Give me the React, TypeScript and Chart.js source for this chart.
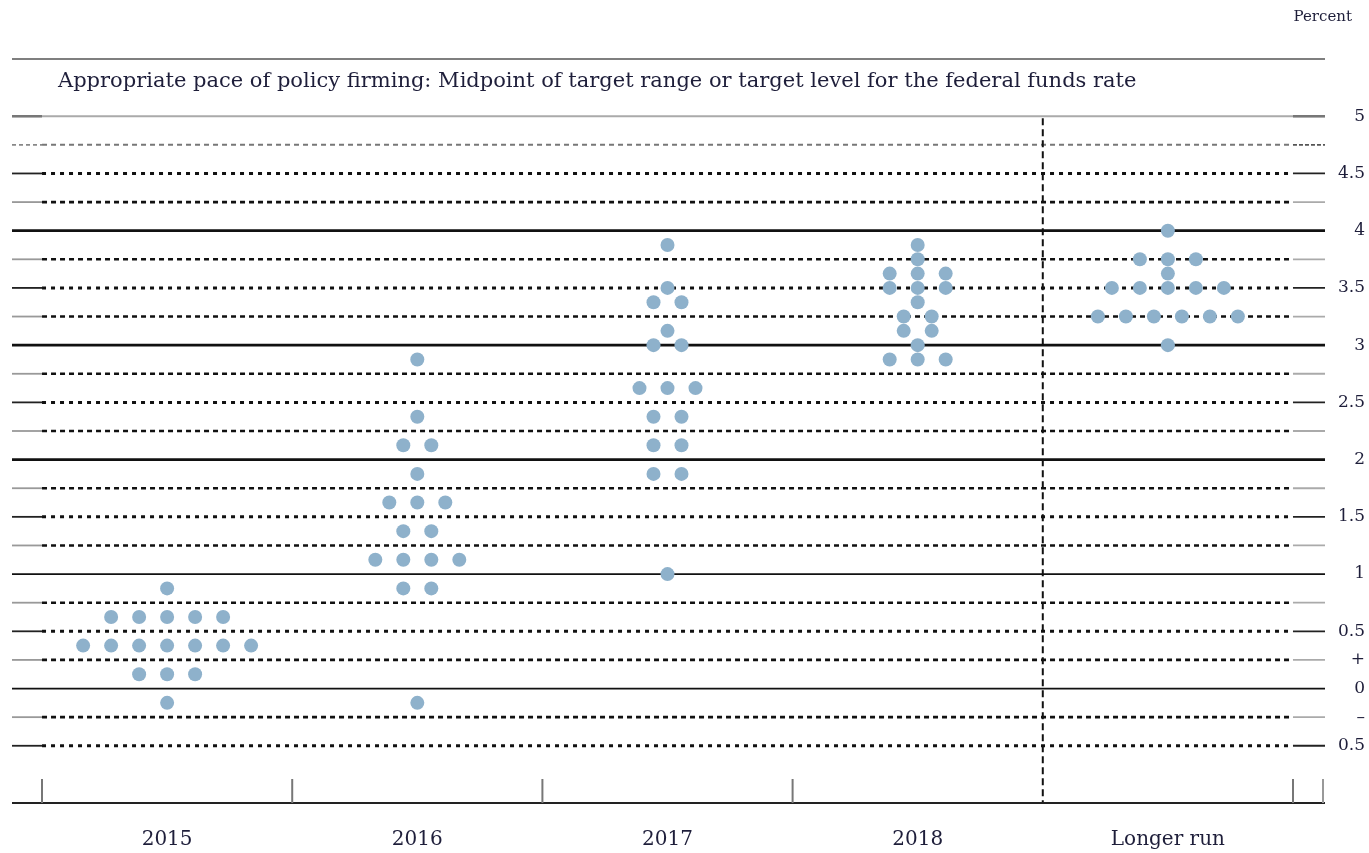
import React, { useEffect, useRef } from 'react';
import { Chart, registerables } from 'chart.js';

Chart.register(...registerables);

// ---------------- data ----------------
const categories = ['2015', '2016', '2017', '2018', 'Longer run'];

// [midpoint of target range (percent), number of participants]
const dots2015: [number, number][] = [
  [0.875, 1],
  [0.625, 5],
  [0.375, 7],
  [0.125, 3],
  [-0.125, 1],
];
const dots2016: [number, number][] = [
  [2.875, 1],
  [2.375, 1],
  [2.125, 2],
  [1.875, 1],
  [1.625, 3],
  [1.375, 2],
  [1.125, 4],
  [0.875, 2],
  [-0.125, 1],
];
const dots2017: [number, number][] = [
  [3.875, 1],
  [3.5, 1],
  [3.375, 2],
  [3.125, 1],
  [3.0, 2],
  [2.625, 3],
  [2.375, 2],
  [2.125, 2],
  [1.875, 2],
  [1.0, 1],
];
const dots2018: [number, number][] = [
  [3.875, 1],
  [3.75, 1],
  [3.625, 3],
  [3.5, 3],
  [3.375, 1],
  [3.25, 2],
  [3.125, 2],
  [3.0, 1],
  [2.875, 3],
];
const dotsLongerRun: [number, number][] = [
  [4.0, 1],
  [3.75, 3],
  [3.625, 1],
  [3.5, 5],
  [3.25, 6],
  [3.0, 1],
];
const allDots = [dots2015, dots2016, dots2017, dots2018, dotsLongerRun];

const yTickValues = [5, 4.5, 4, 3.5, 3, 2.5, 2, 1.5, 1, 0.5, 0.25, 0, -0.25, -0.5];
const yTickLabels = ['5', '4.5', '4', '3.5', '3', '2.5', '2', '1.5', '1', '0.5', '+', '0', '\u2013', '0.5'];

const gridLevels = [5, 4.75, 4.5, 4.25, 4, 3.75, 3.5, 3.25, 3, 2.75, 2.5, 2.25, 2, 1.75, 1.5, 1.25, 1, 0.75, 0.5, 0.25, 0, -0.25, -0.5];

const titleText = 'Appropriate pace of policy firming: Midpoint of target range or target level for the federal funds rate';
const unitText = 'Percent';

// ---------------- layout constants ----------------
const DOT_STEP = 0.1119; // horizontal spacing of dots in category units
const FONT = '"DejaVu Serif", serif';
const TEXT = '#1e1e3a';
const DOT = '#8eb1cb';

function buildPoints() {
  const pts: { x: number; y: number }[] = [];
  allDots.forEach((rows, ci) => {
    rows.forEach(([v, n]) => {
      for (let i = 0; i < n; i++) {
        pts.push({ x: ci + (i - (n - 1) / 2) * DOT_STEP, y: v });
      }
    });
  });
  return pts;
}

const framePlugin = {
  id: 'frame',
  beforeDatasetsDraw(chart: any) {
    const { ctx, chartArea, scales } = chart;
    const xs = scales.x;
    const ys = scales.y;
    const L = chartArea.left;
    const R = chartArea.right;
    const xa = xs.getPixelForValue(-0.5);
    const xb = xs.getPixelForValue(4.5);
    const seg = (x1: number, y1: number, x2: number, y2: number, color: string, w: number, dash: number[] = []) => {
      ctx.beginPath();
      ctx.setLineDash(dash);
      ctx.strokeStyle = color;
      ctx.lineWidth = w;
      ctx.moveTo(x1, y1);
      ctx.lineTo(x2, y2);
      ctx.stroke();
    };
    ctx.save();
    // top frame line
    const yTop = ys.getPixelForValue(5.5);
    seg(L, yTop, R, yTop, '#555', 1.5);

    gridLevels.forEach((v) => {
      const py = ys.getPixelForValue(v);
      const isInt = Math.abs(v - Math.round(v)) < 1e-6;
      const isHalf = !isInt && Math.abs(v * 2 - Math.round(v * 2)) < 1e-6;
      if (v === 5) {
        seg(L, py, R, py, '#aaa', 2);
        seg(L, py, xa, py, '#777', 2.5);
        seg(xb, py, R, py, '#777', 2.5);
      } else if (isInt) {
        const w = v >= 2 ? 2.8 : 1.8;
        seg(L, py, R, py, '#111', w);
      } else if (isHalf) {
        seg(L, py, xa, py, '#222', 1.8);
        seg(xa, py, xb, py, '#111', 3, [4, 5]);
        seg(xb, py, R, py, '#222', 1.8);
      } else {
        const light = v === 4.75;
        seg(L, py, xa, py, light ? '#888' : '#999', 1.8, light ? [4, 3] : []);
        seg(xa, py, xb, py, light ? '#777' : '#111', light ? 2 : 2.6, [5, 4]);
        seg(xb, py, R, py, light ? '#555' : '#aaa', 1.8, light ? [4, 2] : []);
      }
    });

    // vertical separator before "Longer run"
    const xs35 = xs.getPixelForValue(3.5);
    seg(xs35, ys.getPixelForValue(5) + 2, xs35, chartArea.bottom, '#111', 2, [7, 4]);

    // bottom axis line
    seg(L, chartArea.bottom, R, chartArea.bottom, '#222', 1.8);
    // bottom ticks
    [-0.5, 0.5, 1.5, 2.5, 4.5].forEach((c) => {
      const px = xs.getPixelForValue(c);
      seg(px, chartArea.bottom - 24, px, chartArea.bottom, '#777', 2);
    });
    seg(R - 2, chartArea.bottom - 24, R - 2, chartArea.bottom, '#999', 2);

    // title inside the frame
    ctx.setLineDash([]);
    ctx.fillStyle = TEXT;
    ctx.font = `21px ${FONT}`;
    ctx.textAlign = 'left';
    ctx.textBaseline = 'middle';
    ctx.fillText(titleText, L + 46, yTop + 23);

    // unit label
    ctx.font = `15px ${FONT}`;
    ctx.textAlign = 'right';
    ctx.fillText(unitText, 1352, 17);
    ctx.restore();
  },
};

export default function App() {
  const ref = useRef<HTMLCanvasElement | null>(null);
  useEffect(() => {
    if (!ref.current) return;
    const chart = new Chart(ref.current, {
      type: 'scatter',
      data: {
        datasets: [
          {
            data: buildPoints(),
            pointRadius: 7,
            pointHoverRadius: 7,
            pointBackgroundColor: DOT,
            pointBorderWidth: 0,
            borderColor: DOT,
            showLine: false,
          },
        ],
      },
      options: {
        responsive: false,
        animation: false,
        events: [],
        layout: { padding: { top: 59, left: 12, right: 4, bottom: 0 } },
        plugins: {
          legend: { display: false },
          tooltip: { enabled: false },
          title: { display: false },
        },
        scales: {
          x: {
            type: 'linear',
            min: -0.62,
            max: 4.628,
            grid: { display: false, drawTicks: false },
            border: { display: false },
            afterBuildTicks: (scale: any) => {
              scale.ticks = categories.map((_, i) => ({ value: i }));
            },
            afterFit: (scale: any) => {
              scale.height = 50;
            },
            ticks: {
              autoSkip: false,
              maxRotation: 0,
              padding: 25,
              color: TEXT,
              font: { family: FONT, size: 20 },
              callback: (v: any) => categories[Math.round(Number(v))] ?? '',
            },
          },
          y: {
            type: 'linear',
            position: 'right',
            min: -1,
            max: 5.5,
            grid: { display: false, drawTicks: false },
            border: { display: false },
            afterBuildTicks: (scale: any) => {
              scale.ticks = yTickValues.map((v) => ({ value: v }));
            },
            afterFit: (scale: any) => {
              scale.width = 40;
            },
            ticks: {
              autoSkip: false,
              crossAlign: 'far',
              padding: 9,
              color: TEXT,
              font: { family: FONT, size: 17 },
              callback: (v: any) => {
                const i = yTickValues.findIndex((t) => Math.abs(t - Number(v)) < 1e-6);
                return i >= 0 ? yTickLabels[i] : '';
              },
            },
          },
        },
      },
      plugins: [framePlugin],
    });
    return () => chart.destroy();
  }, []);

  return (
    <div style={{ position: 'absolute', left: 0, top: 0, width: 1369, height: 853, background: '#fff' }}>
      <canvas ref={ref} width={1369} height={853} style={{ display: 'block' }} />
    </div>
  );
}
